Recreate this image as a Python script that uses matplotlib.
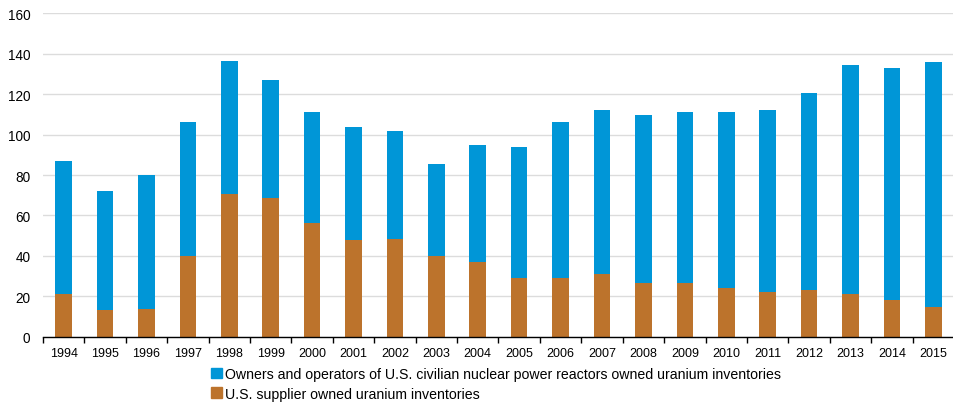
import numpy as np
import matplotlib
matplotlib.use('Agg')
from matplotlib import pyplot as plt
from matplotlib.patches import Patch

plt.rcParams['font.family'] = ['Liberation Sans', 'DejaVu Sans']

years = [str(y) for y in range(1994, 2016)]

# stacked totals and supplier parts (million lb U3O8e)
totals = [86.8, 72.3, 79.8, 106.0, 136.5, 127.0, 111.0, 103.5, 101.9, 85.3, 95.0,
          93.7, 106.3, 112.3, 109.8, 111.3, 111.0, 112.0, 120.6, 134.3, 132.7, 135.8]
supplier = [21.1, 13.5, 13.7, 40.2, 70.5, 68.6, 56.1, 47.9, 48.6, 39.8, 37.2,
            29.0, 29.0, 31.0, 26.8, 26.5, 24.4, 22.0, 23.0, 21.1, 18.4, 14.8]
owners = [t - s for t, s in zip(totals, supplier)]

C_BLUE = '#0096d7'
C_BROWN = '#bc732c'

fig = plt.figure(figsize=(9.54, 4.06), dpi=100)
ax = fig.add_axes([0.045, 0.1675, 0.955, 0.798])

x = np.arange(len(years))
ax.bar(x, supplier, width=0.4, color=C_BROWN, zorder=3)
ax.bar(x, owners, width=0.4, bottom=supplier, color=C_BLUE, zorder=3)

ax.set_ylim(0, 160)
ax.set_yticks(range(0, 161, 20))
ax.set_xlim(-0.5, 21.385)
ax.set_xticks(x)
ax.set_xticklabels(years)
ax.set_xticks(np.arange(-0.5, 22, 1), minor=True)

ax.grid(axis='y', color='#dcdcdc', linewidth=1, zorder=0)
for s in ['left', 'right', 'top']:
    ax.spines[s].set_visible(False)
ax.spines['bottom'].set_color('black')
ax.spines['bottom'].set_linewidth(1)
ax.spines['bottom'].set_zorder(4)

ax.tick_params(axis='x', which='major', length=0, pad=7, labelsize=9, colors='black')
ax.tick_params(axis='x', which='minor', length=4, width=1, color='black')
ax.tick_params(axis='y', length=0, pad=9, labelsize=9.8, colors='black')

handles = [Patch(color=C_BLUE,
                 label='Owners and operators of U.S. civilian nuclear power reactors owned uranium inventories'),
           Patch(color=C_BROWN, label='U.S. supplier owned uranium inventories')]
fig.legend(handles=handles, loc='upper left', bbox_to_anchor=(0.2215, 0.093),
           frameon=False, fontsize=10.2, handlelength=0.75, handleheight=0.75,
           handletextpad=0.2, labelspacing=0.38, borderpad=0, borderaxespad=0)

fig.savefig('out.png', dpi=100)
